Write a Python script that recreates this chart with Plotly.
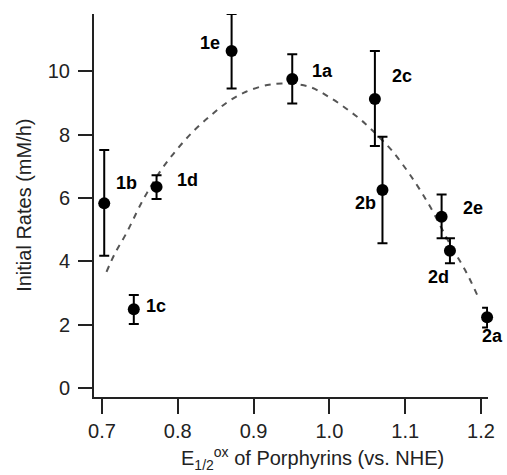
import plotly.graph_objects as go

# Data points
labels = ["1b", "1c", "1d", "1e", "1a", "2c", "2b", "2e", "2d", "2a"]
e_half = [0.703, 0.742, 0.772, 0.871, 0.951, 1.060, 1.070, 1.148, 1.159, 1.208]
rates = [5.83, 2.49, 6.35, 10.63, 9.75, 9.12, 6.25, 5.41, 4.34, 2.24]
err_plus = [1.68, 0.45, 0.37, 1.17, 0.78, 1.51, 1.68, 0.70, 0.39, 0.30]
err_minus = [1.65, 0.46, 0.38, 1.18, 0.77, 1.48, 1.68, 0.68, 0.40, 0.32]

# Dashed fit curve
fit_x = [0.706, 0.717, 0.732, 0.754, 0.778, 0.800, 0.822, 0.844, 0.866, 0.890,
         0.918, 0.938, 0.973, 0.999, 1.025, 1.047, 1.065, 1.082, 1.102, 1.117,
         1.133, 1.161, 1.179, 1.196]
fit_y = [3.67, 4.25, 4.88, 5.93, 6.88, 7.56, 8.14, 8.61, 9.03, 9.35,
         9.56, 9.61, 9.51, 9.19, 8.77, 8.35, 7.93, 7.51, 6.88, 6.35,
         5.72, 4.46, 3.73, 2.89]

x_ticks = [0.7, 0.8, 0.9, 1.0, 1.1, 1.2]
x_ticktext = ["0.7", "0.8", "0.9", "1.0", "1.1", "1.2"]
y_ticks = [0, 2, 4, 6, 8, 10]

# label offsets in pixels (dx right, dy up)
label_dx = [22, 22, 31, -22, 30, 27, -17, 31, -11, 5]
label_dy = [20, 3, 7, 8, 8, 23, -13, 9, -26, -19]

FONT = "Liberation Sans, Arial, sans-serif"

fig = go.Figure()
fig.add_trace(go.Scatter(
    x=fit_x, y=fit_y, mode="lines",
    line=dict(color="#555555", width=2, dash="6px,6px", shape="spline"),
    hoverinfo="skip", showlegend=False,
))
fig.add_trace(go.Scatter(
    x=e_half, y=rates, mode="markers",
    marker=dict(color="black", size=12),
    error_y=dict(type="data", symmetric=False, array=err_plus, arrayminus=err_minus,
                 color="black", thickness=2, width=5),
    cliponaxis=False, showlegend=False,
))

for lab, x, y, dx, dy in zip(labels, e_half, rates, label_dx, label_dy):
    fig.add_annotation(x=x, y=y, text=lab, showarrow=False, xshift=dx, yshift=dy,
                       font=dict(family=FONT, size=18, color="black", weight="bold"))

fig.add_annotation(xref="paper", yref="paper", x=(314 - 94) / 396, y=-0.16,
                   text="E<sub>1/2</sub><sup>ox</sup> of Porphyrins (vs. NHE)",
                   showarrow=False, yanchor="middle",
                   font=dict(family=FONT, size=20, color="#222"))
fig.add_annotation(xref="paper", yref="paper", x=(23 - 94) / 396, y=0.5,
                   text="Initial Rates (mM/h)", textangle=-90,
                   showarrow=False, xanchor="center", yanchor="middle",
                   font=dict(family=FONT, size=20, color="#222"))

fig.update_layout(
    width=507, height=475,
    margin=dict(l=94, r=17, t=14, b=78),
    paper_bgcolor="white", plot_bgcolor="white",
    font=dict(family=FONT, size=20, color="#222"),
    xaxis=dict(range=[0.6895, 1.2092], tickvals=x_ticks, ticktext=x_ticktext,
               showgrid=False, zeroline=False, showline=True, linecolor="#222", linewidth=2,
               ticks="outside", ticklen=15, tickwidth=2, tickcolor="#222",
               ticklabelstandoff=0),
    yaxis=dict(range=[-0.274, 11.80], tickvals=y_ticks,
               showgrid=False, zeroline=False, showline=True, linecolor="#222", linewidth=2,
               ticks="outside", ticklen=14, tickwidth=2, tickcolor="#222",
               ticklabelstandoff=4),
)

fig.write_html("out.html", config={"displayModeBar": False},
               post_script="document.body.style.margin='0';document.body.style.overflow='hidden';")
